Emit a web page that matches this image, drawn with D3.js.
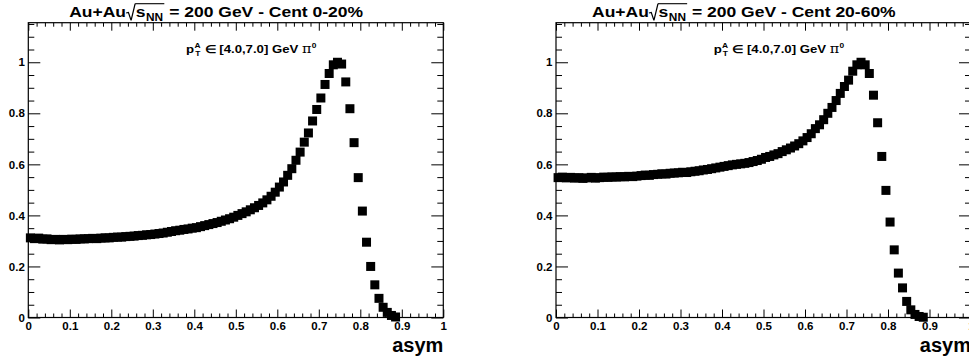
<!DOCTYPE html>
<html><head><meta charset="utf-8">
<script src="https://cdn.jsdelivr.net/npm/d3@7"></script>
<style>
body{margin:0;background:#fff}
text{font-family:"Liberation Sans",Arial,Helvetica,sans-serif;font-weight:bold;fill:#000}
</style>
</head><body>
<svg id="c" width="969" height="362"></svg>
<script>
// ---------- data ----------
const asymBins = d3.range(89).map(i => +(0.005 + 0.01 * i).toFixed(3)); // bin centres (bin width 0.01)
const cent0_20 = [
  0.312,0.309,0.311,0.307,0.308,0.305,0.306,0.304,0.306,0.305,
  0.307,0.306,0.308,0.308,0.309,0.310,0.309,0.311,0.312,0.312,
  0.314,0.315,0.315,0.317,0.318,0.319,0.321,0.322,0.324,0.325,
  0.327,0.329,0.331,0.334,0.337,0.340,0.342,0.345,0.347,0.350,
  0.352,0.356,0.360,0.364,0.368,0.372,0.377,0.382,0.387,0.393,
  0.400,0.407,0.414,0.422,0.430,0.439,0.449,0.461,0.475,0.491,
  0.511,0.531,0.557,0.583,0.616,0.648,0.687,0.723,0.770,0.815,
  0.860,0.913,0.956,0.990,1.000,0.993,0.923,0.818,0.685,0.548,
  0.417,0.295,0.200,0.128,0.075,0.040,0.020,0.008,0.002
];
const cent20_60 = [
  0.548,0.550,0.547,0.549,0.546,0.548,0.545,0.547,0.549,0.546,
  0.548,0.550,0.549,0.551,0.550,0.552,0.551,0.553,0.552,0.554,
  0.556,0.558,0.557,0.560,0.561,0.563,0.562,0.565,0.566,0.567,
  0.569,0.568,0.571,0.573,0.575,0.578,0.580,0.583,0.586,0.589,
  0.592,0.595,0.598,0.600,0.602,0.604,0.607,0.611,0.615,0.620,
  0.627,0.631,0.637,0.642,0.650,0.657,0.664,0.672,0.681,0.692,
  0.705,0.720,0.740,0.755,0.775,0.800,0.823,0.850,0.878,0.905,
  0.930,0.965,0.990,1.000,0.990,0.956,0.871,0.763,0.631,0.498,
  0.374,0.265,0.174,0.116,0.063,0.030,0.012,0.004,0.001
];
const xMajor = [0,0.1,0.2,0.3,0.4,0.5,0.6,0.7,0.8,0.9,1];
const xTickLabels = ["0","0.1","0.2","0.3","0.4","0.5","0.6","0.7","0.8","0.9","1"];
const yMajor = [0,0.2,0.4,0.6,0.8,1];
const yTickLabels = ["0","0.2","0.4","0.6","0.8","1"];
const centLabels = ["Cent 0-20%","Cent 20-60%"];
const xTitle = "asym";
const ptRange = "[4.0,7.0]";

// ---------- layout ----------
const svg = d3.select("#c");
svg.append("rect").attr("width",969).attr("height",362).attr("fill","#fff");
const frameTop = 22.7, frameBottom = 317.5, frameW = 415;
const panels = [
  {left: 28.3, values: cent0_20, cent: centLabels[0]},
  {left: 556,  values: cent20_60, cent: centLabels[1]}
];
const xMinor = d3.range(0, 1.0001, 0.02).map(v => +v.toFixed(2)).filter(v => !xMajor.includes(v));
const yMinor = d3.range(0, 1.16, 0.05).map(v => +v.toFixed(2)).filter(v => !yMajor.includes(v));

function drawTitle(cx, base, cent) {
  const sx = 1.13, fs = 15.5, fsSub = 10.5;
  const g = svg.append("g");
  let x = 0;
  const t1 = g.append("text").attr("x", x).attr("y", 0).style("font-size", fs + "px").text("Au+Au");
  x += t1.node().getComputedTextLength();
  const r0 = x;
  g.append("path")
    .attr("d", `M${r0},${-3.7} L${r0+2},${-4.3} L${r0+4.4},${3.7} L${r0+8},${-13}`)
    .attr("fill","none").attr("stroke","#000").attr("stroke-width",1.1);
  x += 8.5;
  const ts = g.append("text").attr("x", x).attr("y", 0).style("font-size", fs + "px").text("s");
  x += ts.node().getComputedTextLength() + 0.5;
  const tn = g.append("text").attr("x", x).attr("y", 4).style("font-size", fsSub + "px").text("NN");
  x += tn.node().getComputedTextLength() + 1;
  g.append("line").attr("x1", r0 + 8).attr("x2", x).attr("y1", -13).attr("y2", -13)
    .attr("stroke","#000").attr("stroke-width",1.1);
  const tr = g.append("text").attr("x", x).attr("y", 0).style("font-size", fs + "px")
    .attr("xml:space","preserve").text(" = 200 GeV - " + cent);
  x += tr.node().getComputedTextLength();
  g.attr("transform", `translate(${cx - x * sx / 2},${base}) scale(${sx},1)`);
}

function drawAnnot(x0, base) {
  const sx = 1.2, fs = 11, fsS = 7;
  const g = svg.append("g").attr("transform", `translate(${x0},${base}) scale(${sx},1)`);
  let x = 0;
  const p = g.append("text").attr("x", x).attr("y", 0).style("font-size", fs + "px").text("p");
  x += p.node().getComputedTextLength() + 0.3;
  const a = g.append("text").attr("x", x).attr("y", -4.5).style("font-size", fsS + "px").text("A");
  const t = g.append("text").attr("x", x + 0.6).attr("y", 3.2).style("font-size", fsS + "px").text("T");
  x += Math.max(a.node().getComputedTextLength(), t.node().getComputedTextLength()) + 0.5;
  const m = g.append("text").attr("x", x).attr("y", 0).style("font-size", fs + "px")
    .attr("xml:space","preserve").text(" \u2208 " + ptRange + " GeV ");
  x += m.node().getComputedTextLength();
  const pi = g.append("text").attr("x", x).attr("y", 0).style("font-size", (fs+1) + "px")
    .style("font-family","'DejaVu Serif','Liberation Serif',serif").style("font-weight","normal").text("\u03c0");
  x += pi.node().getComputedTextLength() + 0.2;
  g.append("text").attr("x", x).attr("y", -5).style("font-size", fsS + "px").text("0");
}

panels.forEach(p => {
  const x = d3.scaleLinear().domain([0, 1]).range([p.left, p.left + frameW]);
  const y = d3.scaleLinear().domain([0, 1.155]).range([frameBottom, frameTop]);
  const g = svg.append("g");

  const styleAxis = sel => {
    sel.select(".domain").remove();
    sel.selectAll(".tick line").attr("stroke", "#000").attr("stroke-width", 1);
    sel.selectAll(".tick text").style("font-size", "11.5px").style("font-family", "'Liberation Sans',Arial,sans-serif").style("font-weight","bold");
  };
  // bottom
  g.append("g").attr("transform", `translate(0,${frameBottom})`)
    .call(d3.axisBottom(x).tickValues(xMajor).tickSize(-8).tickPadding(4).tickFormat((d,i) => xTickLabels[i]))
    .call(styleAxis);
  g.append("g").attr("transform", `translate(0,${frameBottom})`)
    .call(d3.axisBottom(x).tickValues(xMinor).tickSize(-4).tickFormat(""))
    .call(styleAxis);
  // top
  g.append("g").attr("transform", `translate(0,${frameTop})`)
    .call(d3.axisTop(x).tickValues(xMajor).tickSize(-8).tickFormat(""))
    .call(styleAxis);
  g.append("g").attr("transform", `translate(0,${frameTop})`)
    .call(d3.axisTop(x).tickValues(xMinor).tickSize(-4).tickFormat(""))
    .call(styleAxis);
  // left
  g.append("g").attr("transform", `translate(${p.left},0)`)
    .call(d3.axisLeft(y).tickValues(yMajor).tickSize(-12).tickPadding(3.5).tickFormat((d,i) => yTickLabels[i]))
    .call(styleAxis);
  g.append("g").attr("transform", `translate(${p.left},0)`)
    .call(d3.axisLeft(y).tickValues(yMinor).tickSize(-6).tickFormat(""))
    .call(styleAxis);
  // right
  g.append("g").attr("transform", `translate(${p.left + frameW},0)`)
    .call(d3.axisRight(y).tickValues(yMajor).tickSize(-12).tickFormat(""))
    .call(styleAxis);
  g.append("g").attr("transform", `translate(${p.left + frameW},0)`)
    .call(d3.axisRight(y).tickValues(yMinor).tickSize(-6).tickFormat(""))
    .call(styleAxis);

  // frame
  g.append("rect").attr("x", p.left).attr("y", frameTop).attr("width", frameW).attr("height", frameBottom - frameTop)
    .attr("fill", "none").attr("stroke", "#000").attr("stroke-width", 1.2);

  // markers
  const pts = asymBins.map((b, i) => ({b, v: p.values[i]}));
  g.selectAll("rect.m").data(pts).join("rect").attr("class","m")
    .attr("x", d => x(d.b) - 4.5).attr("y", d => y(d.v) - 4.5)
    .attr("width", 9).attr("height", 9).attr("fill", "#000");

  // x title
  g.append("text").attr("x", p.left + frameW).attr("y", 352).attr("text-anchor", "end")
    .style("font-size", "20px").text(xTitle);

  drawTitle(p.left + 188, 16.7, p.cent);
  drawAnnot(p.left + 157.7, 52.5);
});
</script>
</body></html>
